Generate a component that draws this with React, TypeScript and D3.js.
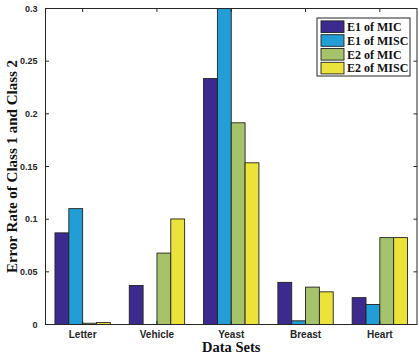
import React from "react";
import * as d3 from "d3";

// Data sets on the x axis
const categories = ["Letter", "Vehicle", "Yeast", "Breast", "Heart"];
// Series names (legend order)
const seriesNames = ["E1 of MIC", "E1 of MISC", "E2 of MIC", "E2 of MISC"];
// Error rates per data set, one array per series
const e1Mic = [0.087, 0.037, 0.2335, 0.04, 0.0255];
const e1Misc = [0.11, 0.0, 0.3, 0.0035, 0.019];
const e2Mic = [0.0012, 0.0678, 0.1915, 0.0355, 0.0825];
const e2Misc = [0.0018, 0.1002, 0.1535, 0.031, 0.0825];
const yTicks = [0, 0.05, 0.1, 0.15, 0.2, 0.25, 0.3];

const seriesValues = [e1Mic, e1Misc, e2Mic, e2Misc];
const colors = ["#3d2a8f", "#229dd6", "#a6c36c", "#ebe23a"];

const W = 419;
const H = 364;
const left = 45.5;
const right = 417;
const top = 8.5;
const bottom = 324.5;
const axisColor = "#262626";
const sans = "'Liberation Sans', Arial, sans-serif";
const serif = "'Liberation Serif', 'Times New Roman', serif";

export default function App() {
  const x = d3.scaleBand<string>().domain(categories).range([left, right]).paddingInner(0).paddingOuter(0);
  const groupWidth = x.bandwidth() * 0.745;
  const xs = d3
    .scaleBand<number>()
    .domain(d3.range(seriesNames.length))
    .range([-groupWidth / 2, groupWidth / 2])
    .padding(0);
  const y = d3.scaleLinear().domain([0, 0.3]).range([bottom, top]);
  const tickLen = 3.5;

  return (
    <svg
      width={W}
      height={H}
      style={{ position: "absolute", left: 0, top: 0, background: "#fff" }}
    >
      <defs>
        <clipPath id="plotClip">
          <rect x={left} y={top} width={right - left} height={bottom - top} />
        </clipPath>
      </defs>
      <rect x={0} y={0} width={W} height={H} fill="#fff" />

      {/* bars */}
      <g clipPath="url(#plotClip)">
        {categories.map((c, ci) =>
          seriesValues.map((vals, si) => {
            const cx = (x(c) as number) + x.bandwidth() / 2;
            const bx = cx + (xs(si) as number);
            const v = vals[ci];
            return (
              <rect
                key={`${c}-${si}`}
                x={bx}
                y={y(v)}
                width={xs.bandwidth()}
                height={Math.max(0, y(0) - y(v))}
                fill={colors[si]}
                stroke="#222"
                strokeWidth={0.9}
              />
            );
          })
        )}
      </g>

      {/* axes box */}
      <rect
        x={left}
        y={top}
        width={right - left}
        height={bottom - top}
        fill="none"
        stroke={axisColor}
        strokeWidth={1}
      />

      {/* y ticks */}
      {yTicks.map((t) => (
        <g key={t}>
          <line x1={left} x2={left + tickLen} y1={y(t)} y2={y(t)} stroke={axisColor} />
          <line x1={right} x2={right - tickLen} y1={y(t)} y2={y(t)} stroke={axisColor} />
          <text
            x={left - 8}
            y={y(t)}
            dy="0.35em"
            textAnchor="end"
            fontFamily={sans}
            fontWeight="bold"
            fontSize={9}
            fill={axisColor}
          >
            {String(t)}
          </text>
        </g>
      ))}

      {/* x ticks */}
      {categories.map((c) => {
        const cx = (x(c) as number) + x.bandwidth() / 2;
        return (
          <g key={c}>
            <line x1={cx} x2={cx} y1={top} y2={top + tickLen} stroke={axisColor} />
            <line x1={cx} x2={cx} y1={bottom} y2={bottom - tickLen} stroke={axisColor} />
            <text
              x={cx}
              y={337.5}
              textAnchor="middle"
              fontFamily={sans}
              fontWeight="bold"
              fontSize={10}
              fill={axisColor}
            >
              {c}
            </text>
          </g>
        );
      })}

      {/* axis titles */}
      <text
        x={(left + right) / 2}
        y={351.5}
        textAnchor="middle"
        fontFamily={serif}
        fontWeight="bold"
        fontSize={14.5}
        fill="#111"
      >
        Data Sets
      </text>
      <text
        transform={`translate(17, ${(top + bottom) / 2}) rotate(-90)`}
        textAnchor="middle"
        fontFamily={serif}
        fontWeight="bold"
        fontSize={15}
        fill="#111"
      >
        Error Rate of Class 1 and Class 2
      </text>

      {/* legend */}
      <g>
        <rect x={317} y={18} width={93} height={58} fill="#fff" stroke={axisColor} strokeWidth={1} />
        {seriesNames.map((n, i) => {
          const cy = 26.7 + i * 13.8;
          return (
            <g key={n}>
              <rect
                x={321}
                y={cy - 5.8}
                width={23}
                height={11.6}
                fill={colors[i]}
                stroke="#222"
                strokeWidth={0.9}
              />
              <text
                x={347}
                y={cy}
                dy="0.35em"
                fontFamily={serif}
                fontWeight="bold"
                fontSize={12}
                fill="#111"
              >
                {n}
              </text>
            </g>
          );
        })}
      </g>
    </svg>
  );
}
